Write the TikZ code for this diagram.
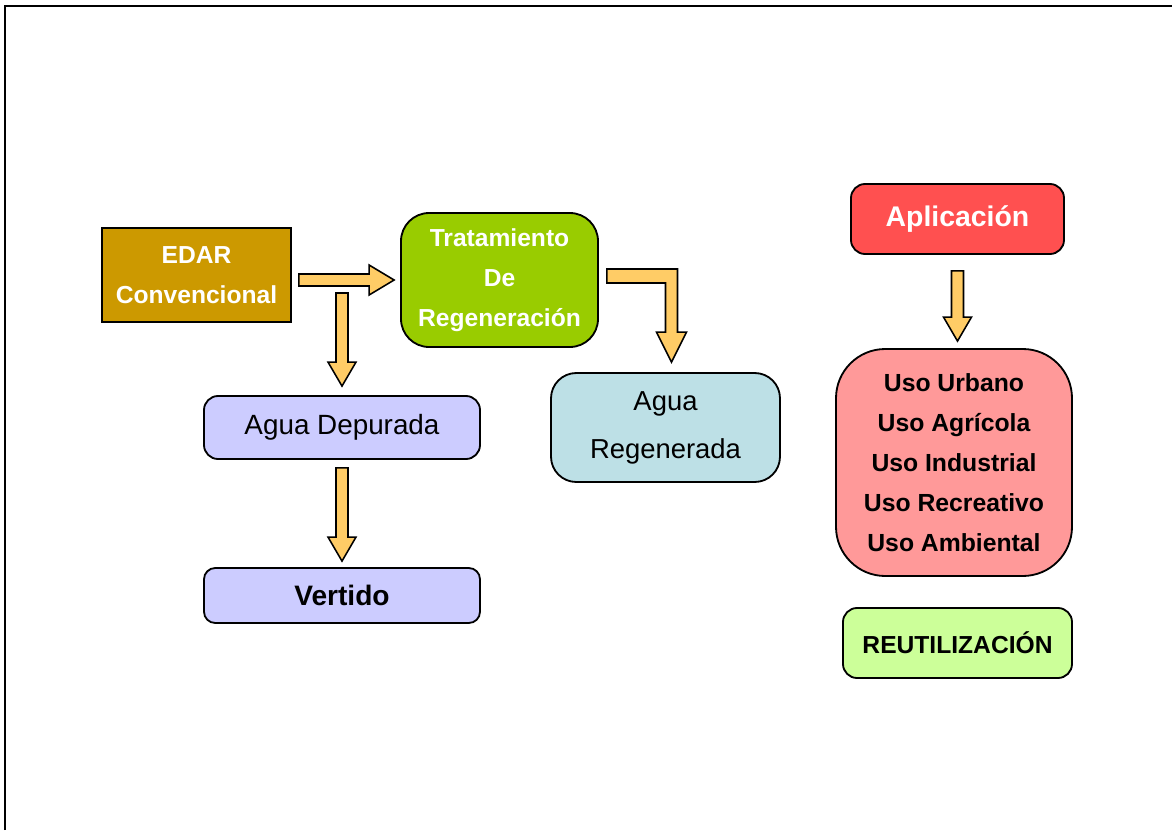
\documentclass[tikz,border=0pt]{standalone}
\usepackage{fontspec}
\setmainfont{Liberation Sans}
\usetikzlibrary{calc,positioning}
\definecolor{edarbrown}{RGB}{204,153,0}
\definecolor{regengreen}{RGB}{153,204,0}
\definecolor{depuradablue}{RGB}{204,204,255}
\definecolor{aguacyan}{RGB}{189,224,230}
\definecolor{aplicred}{RGB}{255,80,80}
\definecolor{usopink}{RGB}{255,153,153}
\definecolor{reusegreen}{RGB}{204,255,153}
\definecolor{arrowfill}{RGB}{255,204,102}

\tikzset{
  stage/.style 2 args={draw=black, line width=1.3pt, inner sep=0pt, align=center,
    minimum width=#1*0.025cm, minimum height=#2*0.025cm},
  whitebold/.style={text=white, font=\fontsize{17.5}{28.4}\selectfont\bfseries},
  blockarrow/.style={draw=black, line width=1.1pt, fill=arrowfill, line join=miter},
}

% block arrows: #1 tail, #2 tip
\newcommand{\downblock}[2]{%
  \draw[blockarrow] ($#1+(-6,0)$) -- ($#1+(6,0)$) -- ($#2+(6,-24)$) -- ($#2+(14,-24)$)
    -- #2 -- ($#2+(-14,-24)$) -- ($#2+(-6,-24)$) -- cycle;}
\newcommand{\rightblock}[2]{%
  \draw[blockarrow] ($#1+(0,-6)$) -- ($#2+(-25,-6)$) -- ($#2+(-25,-15)$) -- #2
    -- ($#2+(-25,15)$) -- ($#2+(-25,6)$) -- ($#1+(0,6)$) -- cycle;}

\begin{document}
\begin{tikzpicture}[x=0.025cm, y=-0.025cm]
  \useasboundingbox (0,0) rectangle (1172,830);
  \draw[line width=2pt] (5,830) -- (5,6) -- (1172,6);

  % left branch
  \node[stage={189}{94}, fill=edarbrown, whitebold] (edar) at (196.5,275) {EDAR\\Convencional};
  \node[stage={197}{134}, fill=regengreen, whitebold, rounded corners=20] (trat) at (499.5,280)
    {Tratamiento\\De\\Regeneración};
  \node[stage={276}{63}, fill=depuradablue, rounded corners=10,
    font=\fontsize{19.8}{24}\selectfont] (depurada) at (342,427.5) {Agua Depurada};
  \node[stage={276}{55}, fill=depuradablue, rounded corners=8,
    font=\fontsize{20}{24}\selectfont\bfseries] (vertido) at (342,595.5) {Vertido};
  \node[stage={229}{109}, fill=aguacyan, rounded corners=18,
    font=\fontsize{19.5}{34}\selectfont] (regen) at (665.5,427.5) {Agua\\Regenerada};

  % right column
  \node[stage={213}{70}, fill=aplicred, rounded corners=10, text=white,
    font=\fontsize{20.2}{24}\selectfont\bfseries] (aplic) at (957.5,219) {Aplicación};
  \node[stage={236}{227}, fill=usopink, rounded corners=35,
    font=\fontsize{17.6}{28.4}\selectfont\bfseries] (uso) at (954,462.5)
    {Uso Urbano\\Uso Agrícola\\Uso Industrial\\Uso Recreativo\\Uso Ambiental};
  \node[stage={229}{70}, fill=reusegreen, rounded corners=10,
    font=\fontsize{17.5}{24}\selectfont\bfseries] (reutil) at (957.5,643) {REUTILIZACIÓN};

  % connectors
  \coordinate (r0) at ($(edar.east |- trat.west)+(7,0)$);
  \coordinate (r1) at ($(trat.west)+(-6,0)$);
  \rightblock{(r0)}{(r1)}
  \coordinate (d0) at ($(depurada.north |- edar.east)+(0,18)$);
  \coordinate (d1) at ($(depurada.north)+(0,-9)$);
  \downblock{(d0)}{(d1)}
  \coordinate (v0) at ($(depurada.south)+(0,8)$);
  \coordinate (v1) at ($(vertido.north)+(0,-6)$);
  \downblock{(v0)}{(v1)}
  \coordinate (a0) at ($(aplic.south)+(0,16)$);
  \coordinate (a1) at ($(a0 |- uso.north)+(0,-7)$);
  \downblock{(a0)}{(a1)}
  \coordinate (b0) at ($(trat.east)+(8,-4)$);
  \coordinate (b1) at ($(regen.north)+(6,-10)$);
  \draw[blockarrow] ($(b0)+(0,-7)$) -- ($(b0 -| b1)+(6,-7)$) -- ($(b1)+(6,-30)$)
    -- ($(b1)+(15,-30)$) -- (b1) -- ($(b1)+(-15,-30)$) -- ($(b1)+(-6,-30)$)
    -- ($(b0 -| b1)+(-6,7)$) -- ($(b0)+(0,7)$) -- cycle;
\end{tikzpicture}
\end{document}
